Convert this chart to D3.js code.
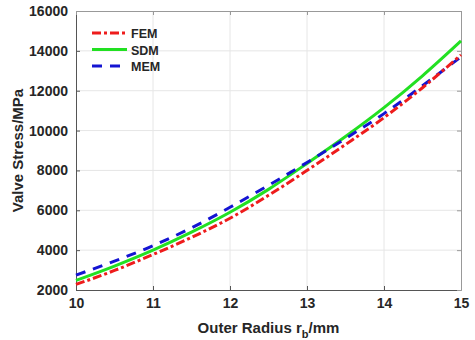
<!DOCTYPE html>
<html>
<head>
<meta charset="utf-8">
<script src="https://cdn.jsdelivr.net/npm/d3@7"></script>
<style>
  body { margin: 0; background: #fff; }
  svg text { font-family: Arial, "Liberation Sans", sans-serif; font-weight: bold; fill: #262626; }
</style>
</head>
<body>
<div id="main"></div>
<script>
// data
const radius = [10, 10.5, 11, 11.5, 12, 12.5, 13, 13.5, 14, 14.5, 15];
const fem = [2280, 2980, 3780, 4640, 5600, 6750, 8000, 9300, 10650, 12150, 13800];
const sdm = [2480, 3200, 4000, 4900, 5900, 7050, 8350, 9700, 11150, 12750, 14500];
const mem = [2750, 3450, 4220, 5120, 6150, 7250, 8400, 9600, 10850, 12250, 13700];
const xTicks = [10, 11, 12, 13, 14, 15];
const yTicks = [2000, 4000, 6000, 8000, 10000, 12000, 14000, 16000];

const series = [
  {name: "FEM", values: fem, color: "#ee1c1c", dash: "9,3,3,3"},
  {name: "SDM", values: sdm, color: "#22e022", dash: null},
  {name: "MEM", values: mem, color: "#1414d2", dash: "10,8"}
];

const width = 475, height = 340;
const margin = {top: 11, right: 14, bottom: 50, left: 76};

const svg = d3.select('#main').append('svg')
  .attr('width', width).attr('height', height);

const x = d3.scaleLinear().domain([10, 15]).range([margin.left, width - margin.right]);
const y = d3.scaleLinear().domain([2000, 16000]).range([height - margin.bottom, margin.top]);

// grid
svg.append('g').selectAll('line').data(xTicks.slice(1, -1)).enter().append('line')
  .attr('x1', d => x(d)).attr('x2', d => x(d))
  .attr('y1', y(2000)).attr('y2', y(16000))
  .attr('stroke', '#e6e6e6').attr('stroke-width', 1);
svg.append('g').selectAll('line').data(yTicks.slice(1, -1)).enter().append('line')
  .attr('x1', x(10)).attr('x2', x(15))
  .attr('y1', d => y(d)).attr('y2', d => y(d))
  .attr('stroke', '#e6e6e6').attr('stroke-width', 1);

// axes, ticks pointing inward
const xAxis = d3.axisBottom(x).tickValues(xTicks).tickFormat(d3.format('d'))
  .tickSizeInner(-4).tickSizeOuter(0).tickPadding(8);
const yAxis = d3.axisLeft(y).tickValues(yTicks).tickFormat(d3.format('d'))
  .tickSizeInner(-4).tickSizeOuter(0).tickPadding(8);

const gx = svg.append('g').attr('transform', 'translate(0,' + y(2000) + ')').call(xAxis);
const gy = svg.append('g').attr('transform', 'translate(' + x(10) + ',0)').call(yAxis);
[gx, gy].forEach(g => {
  g.selectAll('path,line').attr('stroke', '#555').attr('stroke-width', 1);
  g.selectAll('text').style('font-size', '14px').attr('fill', '#262626');
});

// box top and right
svg.append('g').attr('transform', 'translate(0,' + y(16000) + ')')
  .call(d3.axisTop(x).tickValues(xTicks).tickSizeInner(-4).tickSizeOuter(0).tickFormat(''))
  .selectAll('path,line').attr('stroke', '#999');
svg.append('g').attr('transform', 'translate(' + x(15) + ',0)')
  .call(d3.axisRight(y).tickValues(yTicks).tickSizeInner(-4).tickSizeOuter(0).tickFormat(''))
  .selectAll('path,line').attr('stroke', '#999');

// curves
const line = d3.line()
  .x((d, i) => x(radius[i]))
  .y(d => y(d))
  .curve(d3.curveMonotoneX);

// draw SDM first so dashed ones sit on top
[series[1], series[2], series[0]].forEach(s => {
  svg.append('path').datum(s.values)
    .attr('d', line)
    .attr('fill', 'none')
    .attr('stroke', s.color)
    .attr('stroke-width', 3)
    .attr('stroke-dasharray', s.dash);
});

// legend
const legend = svg.append('g').attr('transform', 'translate(92,33)');
series.forEach((s, i) => {
  const row = legend.append('g').attr('transform', 'translate(0,' + (i * 16.5) + ')');
  row.append('line').attr('x1', 0).attr('x2', 35).attr('y1', 0).attr('y2', 0)
    .attr('stroke', s.color).attr('stroke-width', 3)
    .attr('stroke-dasharray', s.dash);
  row.append('text').attr('x', 39).attr('y', 5).style('font-size', '12.5px').text(s.name);
});

// axis titles
svg.append('text')
  .attr('x', (x(10) + x(15)) / 2).attr('y', 333)
  .attr('text-anchor', 'middle').style('font-size', '15px')
  .html('Outer Radius r<tspan dy="5" font-size="11px">b</tspan><tspan dy="-5">/mm</tspan>');

svg.append('text')
  .attr('transform', 'translate(23,' + ((y(2000) + y(16000)) / 2) + ') rotate(-90)')
  .attr('text-anchor', 'middle').style('font-size', '15px')
  .text('Valve Stress/MPa');
</script>
</body>
</html>
